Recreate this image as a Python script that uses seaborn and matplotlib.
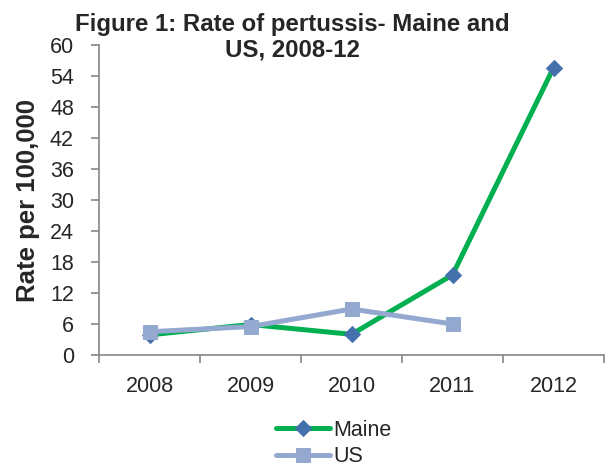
import numpy as np
import pandas as pd
import matplotlib
matplotlib.use("Agg")
import matplotlib.pyplot as plt
import seaborn as sns

# data
years = ["2008", "2009", "2010", "2011", "2012"]
maine = [3.9, 5.9, 4.0, 15.5, 55.6]
us = [4.5, 5.5, 8.9, 6.0, np.nan]

sns.set_style("white")
plt.rcParams["font.family"] = ["Liberation Sans", "DejaVu Sans"]

fig = plt.figure(figsize=(6.12, 4.69), dpi=100)
ax = fig.add_axes([99 / 612, 1 - 355 / 469, 505 / 612, 310 / 469])

pos = np.arange(len(years))
df = pd.DataFrame({"pos": pos, "Maine": maine, "US": us})

# Maine first, US is drawn over it
sns.lineplot(data=df, x="pos", y="Maine", ax=ax, color="#00B050", lw=3.6,
             marker="D", ms=8, markerfacecolor="#4470AB",
             markeredgecolor="#4470AB", label="Maine")
sns.lineplot(data=df, x="pos", y="US", ax=ax, color="#94A8D0", lw=3.6,
             marker="s", ms=10, markerfacecolor="#94A8D0",
             markeredgecolor="#94A8D0", label="US")

ax.set_xlim(-0.5, len(years) - 0.5)
ax.set_ylim(0, 60)
ax.set_yticks(range(0, 61, 6))
ax.set_xticks(pos)
ax.set_xticklabels(years)
ax.set_xticks(np.arange(-0.5, len(years), 1.0), minor=True)
ax.tick_params(axis="x", which="major", length=0, pad=15, labelsize=15.5)
ax.tick_params(axis="x", which="minor", length=6, width=1.2, color="#868686",
               direction="out", bottom=True)
ax.tick_params(axis="y", length=6, width=1.2, color="#868686", direction="out",
               left=True, pad=12, labelsize=15.5)
ax.set_xlabel("")
ax.set_ylabel("Rate per 100,000", fontsize=18.5, fontweight="bold")
ax.yaxis.set_label_coords(-59 / 505, 0.5)

for s in ["top", "right"]:
    ax.spines[s].set_visible(False)
for s in ["left", "bottom"]:
    ax.spines[s].set_color("#868686")
    ax.spines[s].set_linewidth(1.2)

fig.text(292 / 612, 1 - 13 / 469, "Figure 1: Rate of pertussis- Maine and\nUS, 2008-12",
         ha="center", va="top", fontsize=17.3, fontweight="bold", linespacing=1.12)

ax.get_legend().remove()
handles, labels = ax.get_legend_handles_labels()
fig.legend(handles, labels, loc="upper left", bbox_to_anchor=(276 / 612, 1 - 420 / 469),
           frameon=False, fontsize=15.5, borderpad=0, borderaxespad=0,
           handlelength=2.5, handletextpad=0.15, labelspacing=0.25)

fig.savefig("out.png", dpi=100)
